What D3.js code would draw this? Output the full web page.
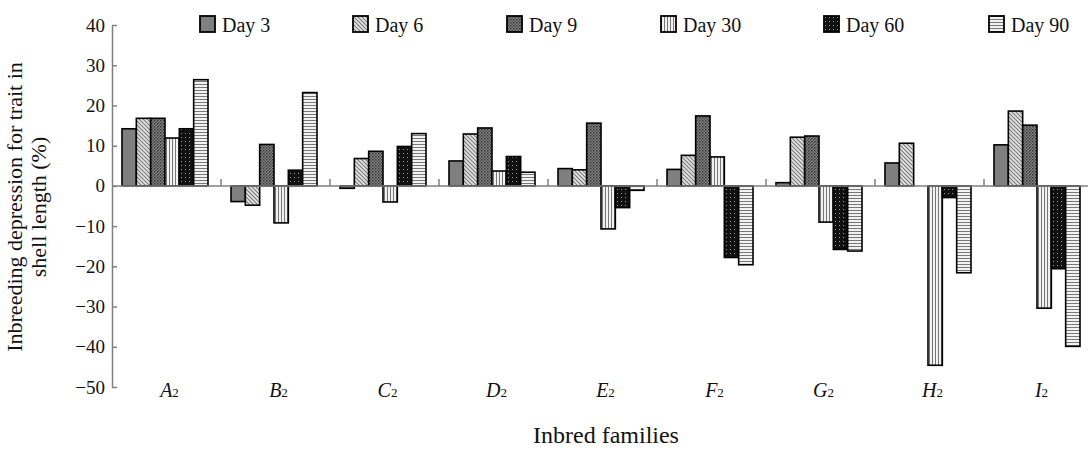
<!DOCTYPE html>
<html>
<head>
<meta charset="utf-8">
<script src="https://cdn.jsdelivr.net/npm/d3@7"></script>
<style>
  body { margin: 0; background: #fff; }
  svg { display: block; font-family: "Liberation Serif", "Times New Roman", serif; }
</style>
</head>
<body>
<div id="chart"></div>
<script>
// data
const families = ["A", "B", "C", "D", "E", "F", "G", "H", "I"];
const days = ["Day 3", "Day 6", "Day 9", "Day 30", "Day 60", "Day 90"];
const day3  = [14.2, -3.9, -0.6, 6.2, 4.3, 4.1, 0.8, 5.7, 10.2];
const day6  = [16.8, -4.8, 6.8, 12.9, 4.0, 7.6, 12.1, 10.6, 18.6];
const day9  = [16.8, 10.3, 8.6, 14.4, 15.6, 17.4, 12.4, null, 15.1];
const day30 = [11.9, -9.2, -4.0, 3.7, -10.7, 7.2, -9.0, -44.6, -30.4];
const day60 = [14.2, 3.9, 9.8, 7.3, -5.4, -17.8, -15.8, -2.9, -20.6];
const day90 = [26.4, 23.2, 13.0, 3.4, -1.1, -19.6, -16.2, -21.6, -39.9];
const yTicks = [40, 30, 20, 10, 0, -10, -20, -30, -40, -50];

const series = [day3, day6, day9, day30, day60, day90];

const width = 1088, height = 449;
const svg = d3.select("#chart").append("svg")
    .attr("width", width)
    .attr("height", height);

// fill patterns, one per day
const defs = svg.append("defs");
function pattern(id, size, bg, draw) {
    const p = defs.append("pattern")
        .attr("id", id)
        .attr("patternUnits", "userSpaceOnUse")
        .attr("width", size).attr("height", size);
    p.append("rect").attr("width", size).attr("height", size).attr("fill", bg);
    draw(p);
}
pattern("p6", 4, "#e4e4e4", p => {
    p.append("path").attr("d", "M0,0 L4,4 M-1,3 L1,5 M3,-1 L5,1")
        .attr("stroke", "#7a7a7a").attr("stroke-width", 1.1);
});
pattern("p9", 3, "#858585", p => {
    p.append("rect").attr("width", 1.5).attr("height", 1.5).attr("fill", "#333");
    p.append("rect").attr("x", 1.5).attr("y", 1.5).attr("width", 1.5).attr("height", 1.5).attr("fill", "#505050");
});
pattern("p30", 3, "#f2f2f2", p => {
    p.append("rect").attr("width", 1).attr("height", 3).attr("fill", "#777");
});
pattern("p60", 4, "#111", p => {
    p.append("rect").attr("x", 1).attr("y", 1).attr("width", 1).attr("height", 1).attr("fill", "#999");
});
pattern("p90", 3, "#f2f2f2", p => {
    p.append("rect").attr("width", 3).attr("height", 1).attr("fill", "#777");
});
const fills = ["#7f7f7f", "url(#p6)", "url(#p9)", "url(#p30)", "url(#p60)", "url(#p90)"];

// scales
const x0 = d3.scaleBand().domain(families).range([112, 1093]);
const x1 = d3.scaleBand().domain(days).range([10, 96]);
const y = d3.scaleLinear().domain([-50, 40]).range([387, 25]);

// y axis
const yAxis = svg.append("g")
    .attr("transform", "translate(112,0)")
    .call(d3.axisLeft(y).tickValues(yTicks).tickFormat(d3.format("d"))
        .tickSizeInner(-5).tickSizeOuter(0).tickPadding(7));
yAxis.select(".domain").attr("stroke", "#808080").attr("stroke-width", 1.5);
yAxis.selectAll(".tick line").attr("stroke", "#808080").attr("stroke-width", 1.5);
yAxis.selectAll(".tick text")
    .attr("fill", "#111")
    .style("font-size", "19px")
    .style("font-family", "'Liberation Serif', serif");

// bars
const groups = svg.append("g").selectAll("g")
    .data(families)
    .join("g")
    .attr("transform", d => `translate(${x0(d)},0)`);

groups.selectAll("rect")
    .data((f, i) => days.map((day, k) => ({ day, k, v: series[k][i] })).filter(d => d.v !== null))
    .join("rect")
    .attr("x", d => x1(d.day))
    .attr("width", x1.bandwidth())
    .attr("y", d => y(Math.max(0, d.v)))
    .attr("height", d => Math.abs(y(d.v) - y(0)))
    .attr("fill", d => fills[d.k])
    .attr("stroke", "#000")
    .attr("stroke-width", 1.6);

// zero line with group separators
svg.append("line")
    .attr("x1", 112).attr("x2", 1093)
    .attr("y1", y(0)).attr("y2", y(0))
    .attr("stroke", "#808080").attr("stroke-width", 1.5);
svg.append("g").selectAll("line")
    .data(families.slice(1))
    .join("line")
    .attr("x1", d => x0(d)).attr("x2", d => x0(d))
    .attr("y1", y(0)).attr("y2", y(0) - 7)
    .attr("stroke", "#808080").attr("stroke-width", 1.5);

// family labels
const lab = svg.append("g").selectAll("text")
    .data(families)
    .join("text")
    .attr("x", d => x0(d) + x0.bandwidth() / 2 + 3)
    .attr("y", 397)
    .attr("text-anchor", "middle")
    .style("font-size", "20px")
    .attr("fill", "#111");
lab.append("tspan").style("font-style", "italic").text(d => d);
lab.append("tspan").style("font-size", "13px").text("2");

// axis titles
svg.append("text")
    .attr("x", 606).attr("y", 443)
    .attr("text-anchor", "middle")
    .style("font-size", "24px")
    .attr("fill", "#111")
    .text("Inbred families");

const yTitle = svg.append("text")
    .attr("transform", "translate(0,207) rotate(-90)")
    .attr("text-anchor", "middle")
    .style("font-size", "22px")
    .attr("fill", "#111");
yTitle.append("tspan").attr("x", 0).attr("y", 22).text("Inbreeding depression for trait in");
yTitle.append("tspan").attr("x", 0).attr("y", 46).text("shell length (%)");

// legend
const legendX = [200, 353, 507, 661, 824, 989];
const leg = svg.append("g").selectAll("g")
    .data(days)
    .join("g")
    .attr("transform", (d, i) => `translate(${legendX[i]},16)`);
leg.append("rect")
    .attr("width", 15).attr("height", 16)
    .attr("fill", (d, i) => fills[i])
    .attr("stroke", "#000").attr("stroke-width", 1.8);
leg.append("text")
    .attr("x", 22).attr("y", 16)
    .style("font-size", "20px")
    .attr("fill", "#111")
    .text(d => d);
</script>
</body>
</html>
